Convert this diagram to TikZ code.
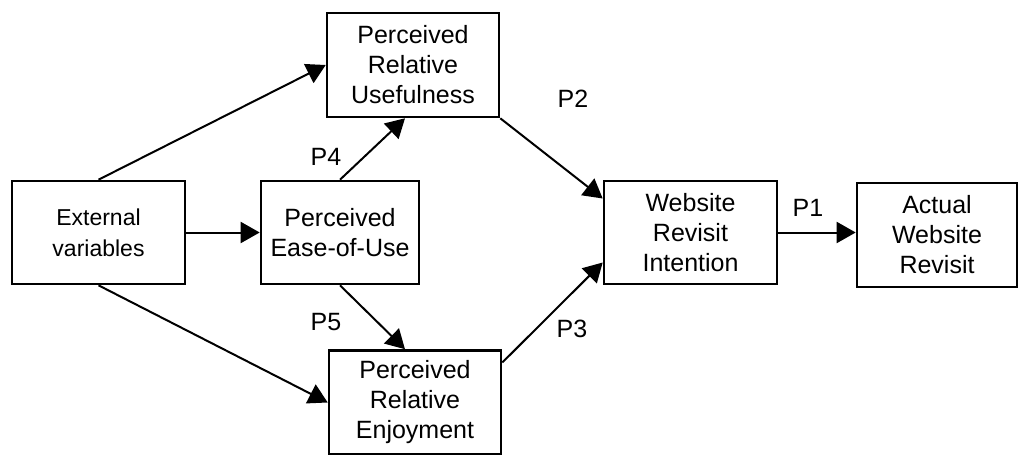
\documentclass[tikz,border=0pt]{standalone}
\usepackage{fontspec}
\setmainfont{Liberation Sans}
\usetikzlibrary{arrows.meta}

\begin{document}
\begin{tikzpicture}[
  x=1pt, y=-1pt, % pixel size, y downward
  line join=miter,
  box/.style={draw, line width=2.6pt, inner sep=0pt, align=center,
    font=\fontsize{25}{30}\selectfont},
  link/.style={line width=2pt, -{Triangle[length=19pt,width=21pt]}},
  plabel/.style={font=\fontsize{25}{28}\selectfont, inner sep=1pt}
]
  % ---- page frame ----
  \useasboundingbox (0,0) rectangle (1018,455);

  % ---- boxes ----
  \node[box, minimum width=173pt, minimum height=103pt,
    font=\fontsize{23}{31}\selectfont] (ext) at (98.5,232.5) {External\\variables};
  \node[box, minimum width=158pt, minimum height=103pt] (ease) at (340,232.5) {Perceived\\Ease-of-Use};
  \node[box, minimum width=172pt, minimum height=104pt] (use) at (413,65) {Perceived\\Relative\\Usefulness};
  \node[box, minimum width=172pt, minimum height=104pt] (enj) at (415,402.5) {Perceived\\Relative\\Enjoyment};
  \node[box, minimum width=173pt, minimum height=103pt] (int) at (690.5,232.5) {Website\\Revisit\\Intention};
  \node[box, minimum width=160pt, minimum height=104pt] (act) at (937,235) {Actual\\Website\\Revisit};

  % ---- arrows ----
  \draw[link] (ext.east) -- (ease.west);
  \draw[link] (ext.north) -- (use.west);
  \draw[link] (ext.south) -- (enj.west);
  \draw[link] (ease.north) -- ([xshift=-8pt]use.south);
  \draw[link] (ease.south) -- ([xshift=-10pt]enj.north);
  \draw[link] (use.south east) -- ([yshift=34pt]int.west);
  \draw[link] ([yshift=40pt]enj.east) -- ([yshift=-30pt]int.west);
  \draw[link] (int.east) -- (int.east -| act.west);

  % ---- path labels ----
  \node[plabel] (p1) at (808,208) {P1};
  \node[plabel] (p2) at (573,99) {P2};
  \node[plabel] (p3) at (572,329) {P3};
  \node[plabel] (p4) at (326,157) {P4};
  \node[plabel] (p5) at (326,322) {P5};

\end{tikzpicture}
\end{document}
